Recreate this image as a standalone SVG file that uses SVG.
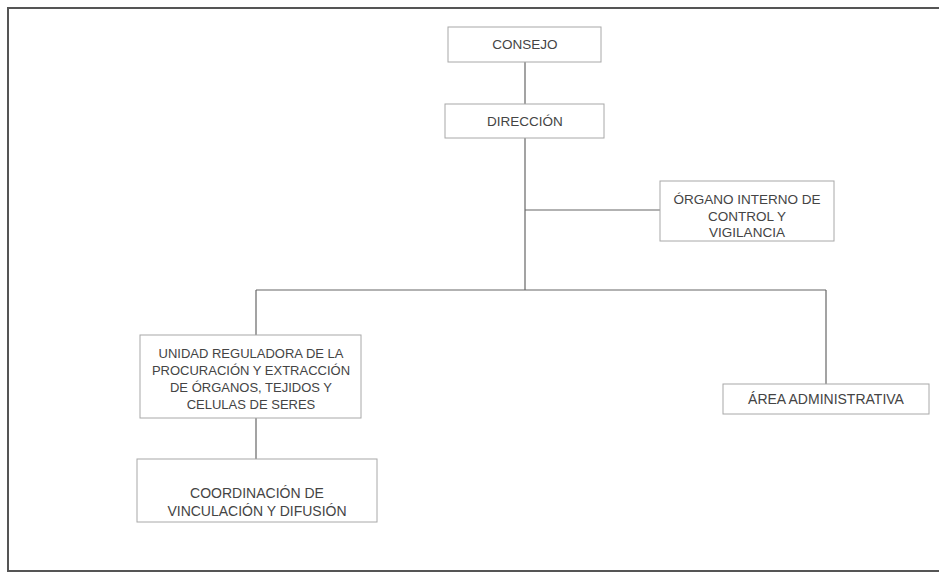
<svg xmlns="http://www.w3.org/2000/svg" width="939" height="576" viewBox="0 0 939 576">
<style>
.frame{fill:none;stroke:#555;stroke-width:2}
.box{fill:#fff;stroke:#a8a8a8;stroke-width:1}
.ln{stroke:#666;stroke-width:1.2;fill:none}
text{font-family:"Liberation Sans",Arial,sans-serif;font-size:13.5px;fill:#444;text-anchor:middle}
.lg{font-size:14px}
.sm{font-size:13px}
</style>
<rect width="939" height="576" fill="#fff"/>
<rect class="frame" x="8" y="8" width="940" height="563"/>
<g id="connectors">
<line class="ln" x1="525" y1="62" x2="525" y2="104"/>
<line class="ln" x1="525" y1="138" x2="525" y2="290"/>
<line class="ln" x1="525" y1="210" x2="660" y2="210"/>
<line class="ln" x1="256" y1="290" x2="826" y2="290"/>
<line class="ln" x1="256" y1="290" x2="256" y2="335"/>
<line class="ln" x1="826" y1="290" x2="826" y2="384"/>
<line class="ln" x1="256" y1="418" x2="256" y2="459"/>
</g>
<g id="consejo">
<rect class="box" x="448" y="27" width="153" height="35"/>
<text x="525" y="49">CONSEJO</text>
</g>
<g id="direccion">
<rect class="box" x="445" y="104" width="159" height="34"/>
<text x="525" y="126">DIRECCIÓN</text>
</g>
<g id="organo">
<rect class="box" x="660" y="181" width="174" height="60"/>
<text x="747" y="204">ÓRGANO INTERNO DE</text>
<text x="747" y="221">CONTROL Y</text>
<text x="747" y="237">VIGILANCIA</text>
</g>
<g id="unidad">
<rect class="box" x="140" y="335" width="221" height="83"/>
<text class="sm" x="251" y="358">UNIDAD REGULADORA DE LA</text>
<text class="sm" x="251" y="375">PROCURACIÓN Y EXTRACCIÓN</text>
<text class="sm" x="251" y="392">DE ÓRGANOS, TEJIDOS Y</text>
<text class="sm" x="251" y="409">CELULAS DE SERES</text>
</g>
<g id="area">
<rect class="box" x="723" y="384" width="206" height="30"/>
<text class="lg" x="826" y="404">ÁREA ADMINISTRATIVA</text>
</g>
<g id="coordinacion">
<rect class="box" x="137" y="459" width="240" height="63"/>
<text class="lg" x="257" y="498">COORDINACIÓN DE</text>
<text class="lg" x="257" y="516">VINCULACIÓN Y DIFUSIÓN</text>
</g>
</svg>
